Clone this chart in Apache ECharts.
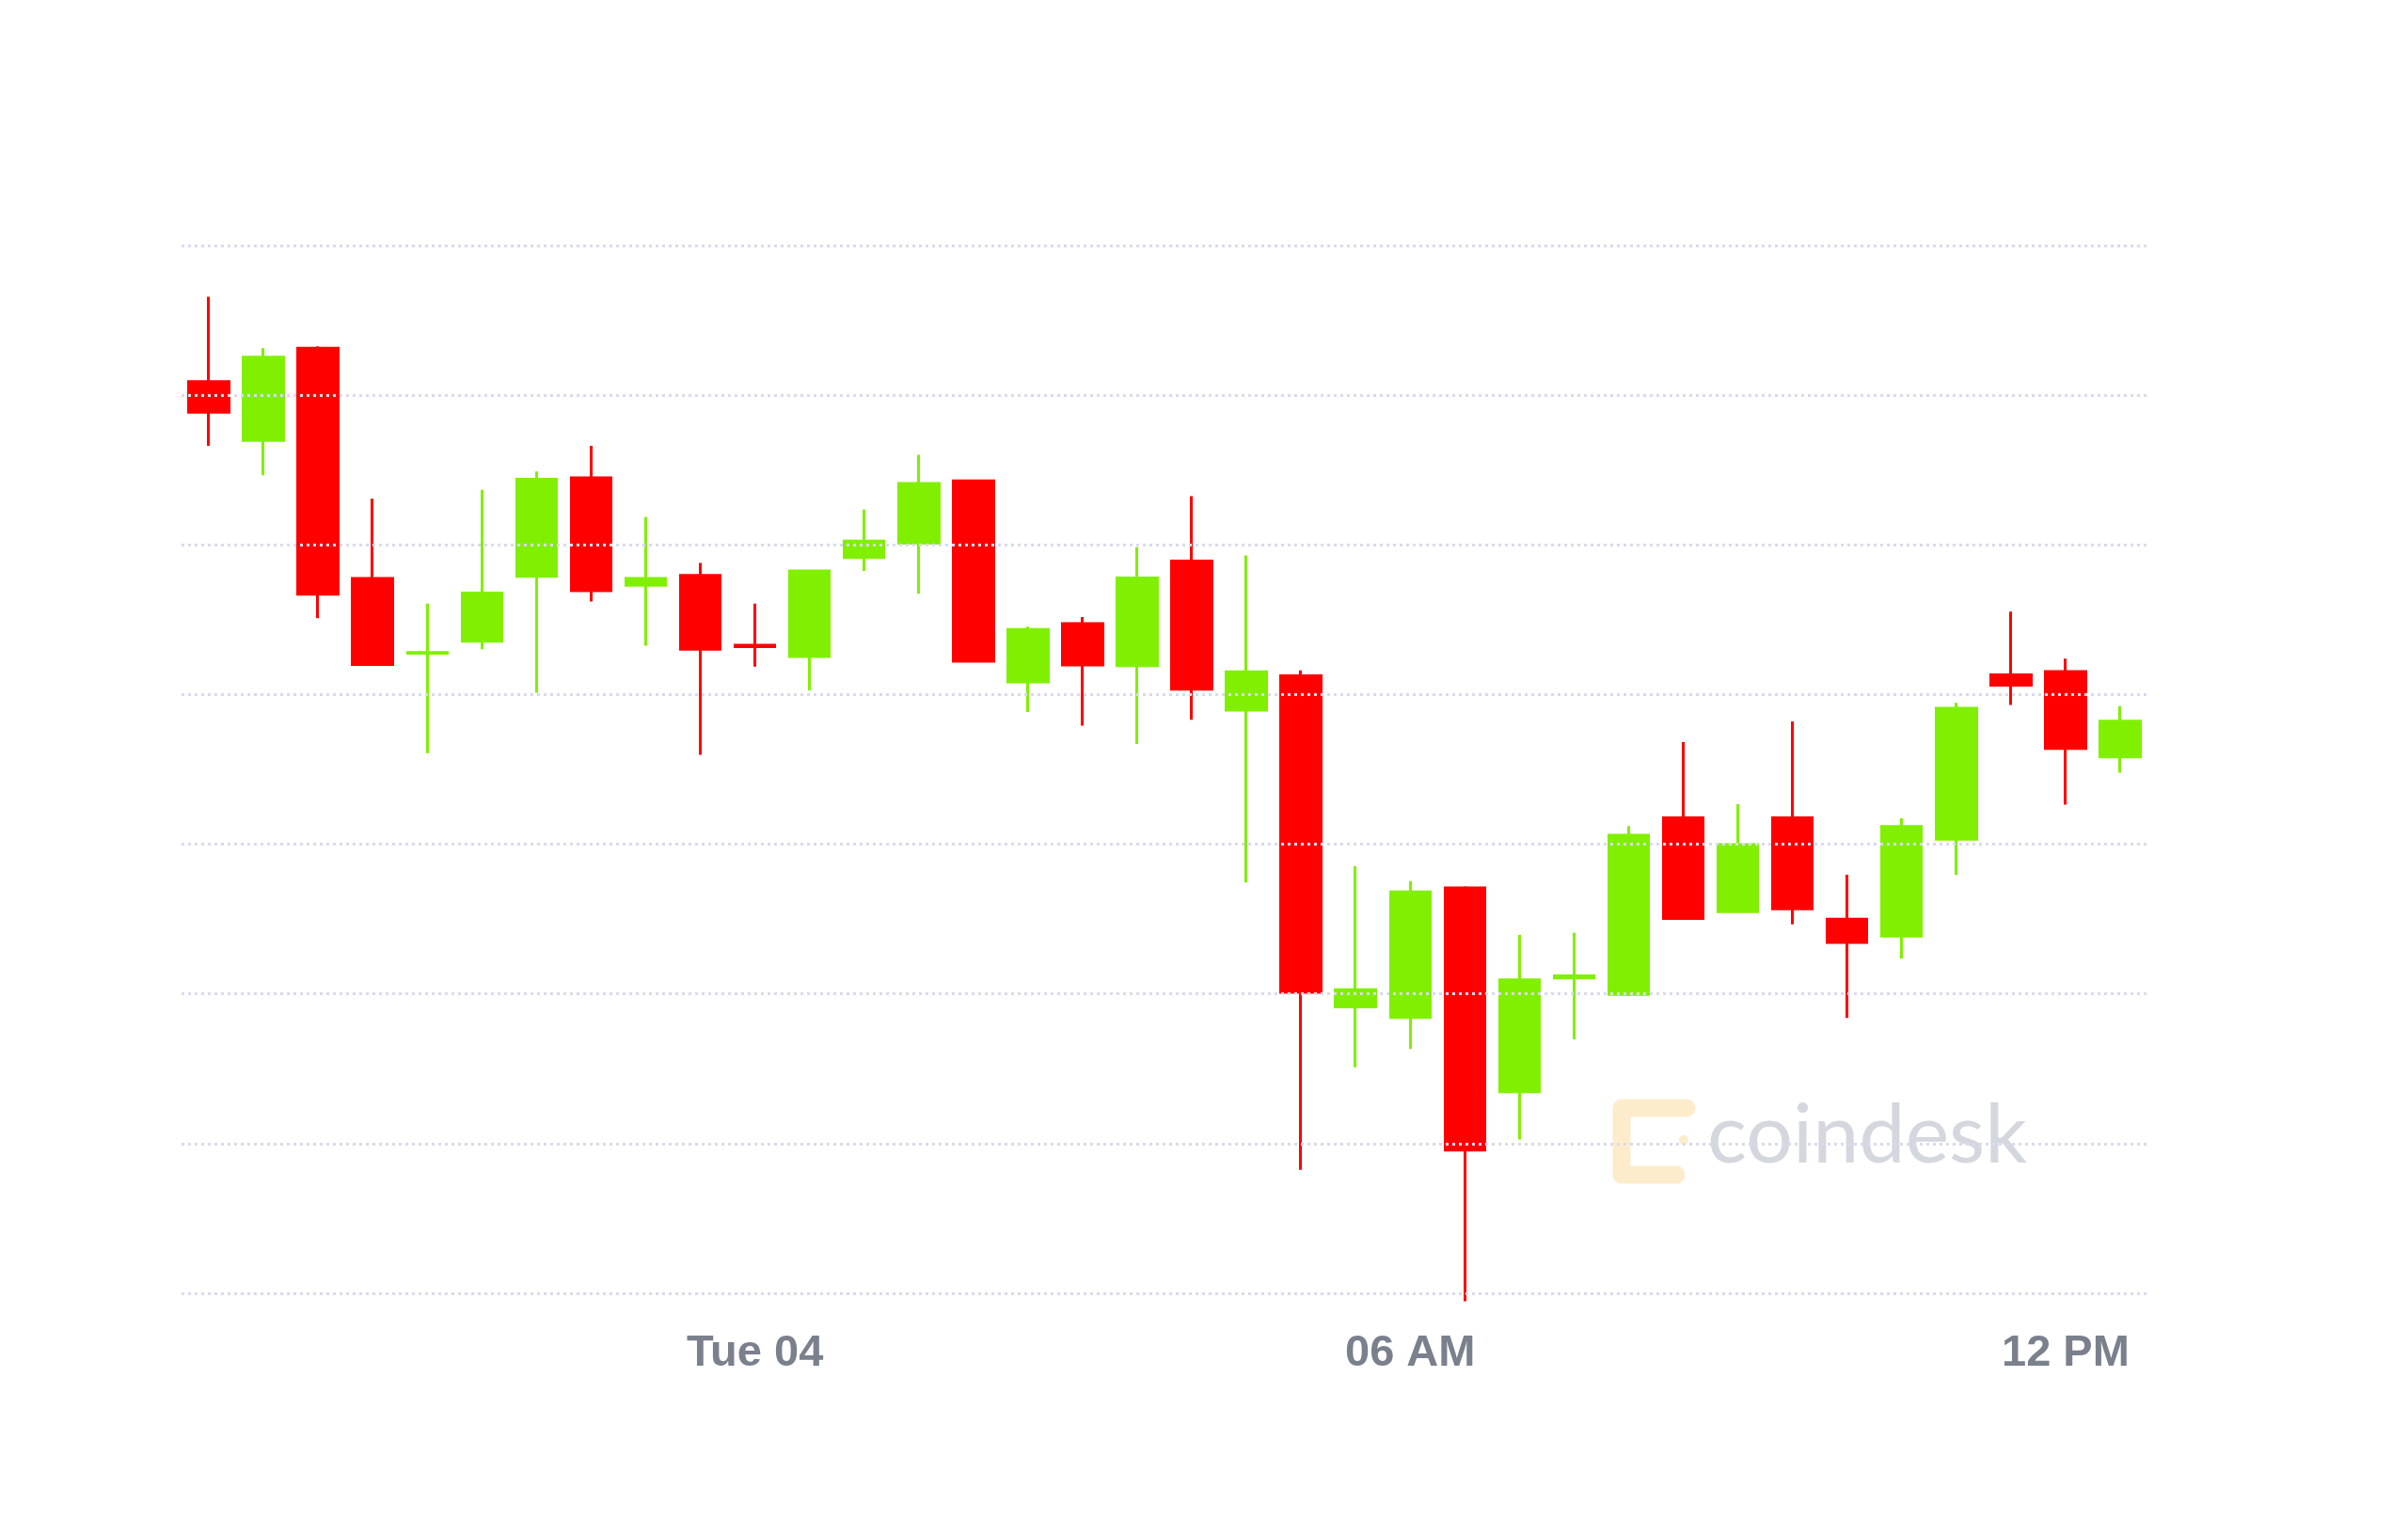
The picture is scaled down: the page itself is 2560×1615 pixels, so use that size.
<!DOCTYPE html>
<html>
<head>
<meta charset="utf-8">
<script src="https://cdn.jsdelivr.net/npm/echarts@6/dist/echarts.min.js"></script>
<style>
  html, body { margin: 0; padding: 0; background: #ffffff; }
  #chart { width: 2560px; height: 1615px; }
</style>
</head>
<body>
<div id="chart"></div>
<script>
// 30-minute candles, Mon 03 19:00 -> Tue 04 12:30
const categories = [
  '19:00','19:30','20:00','20:30','21:00','21:30','22:00','22:30','23:00','23:30',
  '00:00','00:30','01:00','01:30','02:00','02:30','03:00','03:30','04:00','04:30','05:00','05:30',
  '06:00','06:30','07:00','07:30','08:00','08:30','09:00','09:30','10:00','10:30','11:00','11:30','12:00','12:30'
];
const opens  = [9454.5,9434.9,9465.7,9388.8,9363.8,9367.8,9389.5,9422.4,9386.5,9389.8,9366.5,9362.7,
                9395.8,9400.6,9421.4,9354.2,9373.7,9359.6,9394.6,9344.8,9356.3,9245.7,9242.1,9285.4,
                9217.3,9255.3,9249.8,9308.8,9277.5,9308.8,9275.0,9269.3,9301.7,9356.6,9357.7,9329.2];
const closes = [9444.3,9462.7,9383.5,9360.0,9364.0,9383.9,9421.9,9384.7,9388.8,9365.1,9366.0,9391.3,
                9401.3,9420.5,9361.1,9371.7,9359.9,9388.9,9351.8,9357.6,9250.5,9251.4,9284.1,9197.8,
                9254.7,9256.0,9303.0,9275.2,9299.9,9278.4,9267.2,9305.9,9345.4,9353.1,9332.0,9341.1];
const lows   = [9433.1,9423.3,9375.5,9359.8,9330.4,9365.1,9350.6,9381.1,9366.3,9329.9,9359.3,9351.4,
                9391.3,9383.7,9361.0,9344.2,9339.6,9333.5,9341.6,9287.2,9191.2,9225.5,9231.6,9147.3,
                9201.4,9234.8,9249.3,9275.2,9277.3,9273.2,9242.0,9261.8,9289.7,9346.5,9313.2,9323.9];
const highs  = [9482.9,9465.7,9466.3,9415.4,9380.4,9418.4,9424.5,9433.1,9409.3,9394.0,9380.4,9391.6,
                9411.8,9430.1,9421.6,9372.7,9375.9,9399.2,9416.3,9396.5,9358.1,9292.6,9287.7,9286.0,
                9269.7,9270.4,9306.1,9334.1,9313.4,9341.0,9289.8,9308.7,9347.2,9377.7,9362.0,9346.1];
const tickAt     = ['00:00','06:00','12:00'];
const tickLabels = ['Tue 04','06 AM','12 PM'];

const ohlc = categories.map((c, i) => [opens[i], closes[i], lows[i], highs[i]]);

const chart = echarts.init(document.getElementById('chart'), null, { renderer: 'canvas' });
chart.setOption({
  backgroundColor: '#ffffff',
  animation: false,
  grid: { left: 193, right: 277, top: 261, bottom: 240 },
  xAxis: {
    type: 'category',
    data: categories,
    boundaryGap: true,
    axisLine: { show: false },
    axisTick: { show: false },
    splitLine: { show: false },
    axisLabel: {
      interval: (idx, val) => tickAt.indexOf(val) >= 0,
      formatter: (val) => { const k = tickAt.indexOf(val); return k >= 0 ? tickLabels[k] : ''; },
      color: '#7b808d',
      fontFamily: 'Liberation Sans',
      fontWeight: 'bold',
      fontSize: 47,
      margin: 41
    }
  },
  yAxis: {
    type: 'value',
    min: 9150,
    max: 9500,
    interval: 50,
    z: 5,
    axisLine: { show: false },
    axisTick: { show: false },
    axisLabel: { show: false },
    splitLine: {
      show: true,
      lineStyle: { color: '#dadaec', width: 3, type: [3, 4] }
    }
  },
  graphic: [
    {
      type: 'polyline',
      z: 0,
      shape: { points: [[1793, 1178], [1724, 1178], [1724, 1249], [1782, 1249]] },
      style: { stroke: '#fdeccc', lineWidth: 19, lineCap: 'round', lineJoin: 'round', fill: null }
    },
    { type: 'circle', z: 0, shape: { cx: 1790, cy: 1212, r: 5 }, style: { fill: '#fdeccc' } },
    {
      type: 'text',
      z: 0,
      left: 1815,
      top: 1164,
      style: {
        text: 'coindesk',
        fill: '#d4d7de',
        font: '88px Lato'
      }
    }
  ],
  series: [{
    type: 'candlestick',
    data: ohlc,
    barWidth: 43,
    clip: false,
    itemStyle: {
      color: '#80f000',
      color0: '#ff0000',
      borderColor: '#80f000',
      borderColor0: '#ff0000',
      borderWidth: 3
    }
  }]
});
</script>
</body>
</html>
